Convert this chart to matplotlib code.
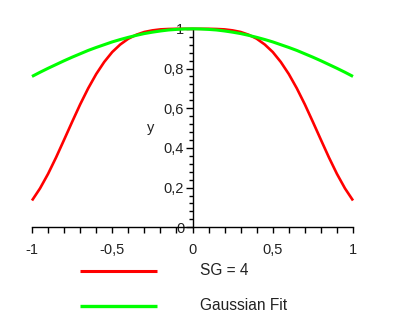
import matplotlib
matplotlib.use("Agg")
import matplotlib.pyplot as plt
from matplotlib.lines import Line2D
from matplotlib.ticker import MultipleLocator, FuncFormatter

plt.rcParams['font.family'] = ['Liberation Sans', 'DejaVu Sans']

# Sample positions and profile values
x_vals = [-1.0, -0.95, -0.9, -0.85, -0.8, -0.75, -0.7, -0.65, -0.6, -0.55, -0.5,
          -0.45, -0.4, -0.35, -0.3, -0.25, -0.2, -0.15, -0.1, -0.05, 0.0,
          0.05, 0.1, 0.15, 0.2, 0.25, 0.3, 0.35, 0.4, 0.45, 0.5,
          0.55, 0.6, 0.65, 0.7, 0.75, 0.8, 0.85, 0.9, 0.95, 1.0]
sg4_vals = [0.135, 0.196, 0.269, 0.352, 0.441, 0.531, 0.619, 0.700, 0.772, 0.833, 0.883,
            0.921, 0.950, 0.970, 0.984, 0.992, 0.997, 0.999, 1.000, 1.000, 1.000,
            1.000, 1.000, 0.999, 0.997, 0.992, 0.984, 0.970, 0.950, 0.921, 0.883,
            0.833, 0.772, 0.700, 0.619, 0.531, 0.441, 0.352, 0.269, 0.196, 0.135]
gauss_vals = [0.760, 0.781, 0.801, 0.820, 0.839, 0.857, 0.874, 0.891, 0.906, 0.920, 0.934,
              0.946, 0.957, 0.967, 0.976, 0.983, 0.989, 0.994, 0.997, 0.999, 1.000,
              0.999, 0.997, 0.994, 0.989, 0.983, 0.976, 0.967, 0.957, 0.946, 0.934,
              0.920, 0.906, 0.891, 0.874, 0.857, 0.839, 0.820, 0.801, 0.781, 0.760]
series_labels = ["SG = 4", "Gaussian Fit"]

RED = "#ff0000"
GREEN = "#00ff00"
TXT = "#222222"

fig = plt.figure(figsize=(3.93, 3.33), dpi=100)
ax = fig.add_axes([32 / 393, (333 - 227.3) / 333, 321 / 393, 198.5 / 333])

ax.plot(x_vals, sg4_vals, color=RED, lw=1.9, solid_capstyle='butt', zorder=3,
        clip_on=False)
ax.plot(x_vals, gauss_vals, color=GREEN, lw=2.2, solid_capstyle='butt', zorder=4,
        clip_on=False)

ax.set_xlim(-1, 1)
ax.set_ylim(0, 1)

for s in ('top', 'right'):
    ax.spines[s].set_visible(False)
ax.spines['left'].set_position(('data', 0))
ax.spines['bottom'].set_position(('data', 0))
for s in ('left', 'bottom'):
    ax.spines[s].set_color('black')
    ax.spines[s].set_linewidth(1.0)

comma = FuncFormatter(lambda v, p: ('%g' % round(v, 2)).replace('.', ','))
ax.xaxis.set_major_locator(MultipleLocator(0.5))
ax.xaxis.set_minor_locator(MultipleLocator(0.1))
ax.yaxis.set_major_locator(MultipleLocator(0.2))
ax.yaxis.set_minor_locator(MultipleLocator(0.04))
ax.xaxis.set_major_formatter(comma)
ax.yaxis.set_major_formatter(comma)

ax.tick_params(axis='x', which='both', direction='out', length=4, width=1,
               pad=7, labelsize=10.5, labelcolor=TXT)
ax.tick_params(axis='y', which='major', direction='out', length=5, width=1,
               pad=1, labelsize=10.5, labelcolor=TXT)
ax.tick_params(axis='y', which='minor', direction='out', length=3, width=1)

ax.text(-0.26, 0.5, "y", ha='center', va='center', fontsize=10.5, color=TXT)

# Legend drawn beneath the axes
for ypx, col, lw, lab in [(270.7, RED, 2.2, series_labels[0]),
                          (305.7, GREEN, 2.4, series_labels[1])]:
    yf = (333 - ypx) / 333
    fig.add_artist(Line2D([80 / 393, 157 / 393], [yf, yf], color=col, lw=lw,
                          solid_capstyle='butt'))
    fig.text(200 / 393, yf, lab, ha='left', va='center', fontsize=11.2, color=TXT)

fig.savefig("out.png", dpi=100)
